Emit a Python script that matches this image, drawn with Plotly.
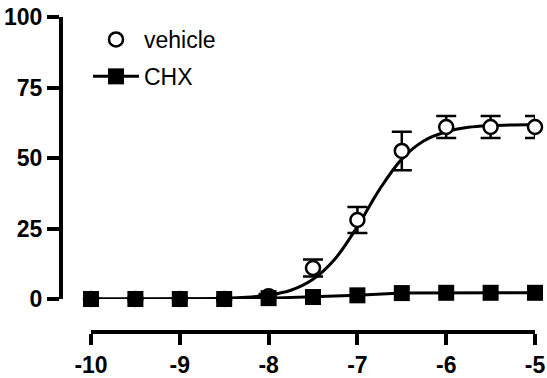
import plotly.graph_objects as go

# data
log_conc = [-10, -9.5, -9, -8.5, -8, -7.5, -7, -6.5, -6, -5.5, -5]
vehicle = [0, 0, 0, 0, 1, 11, 28, 52.5, 61, 61, 61]
vehicle_err = [0, 0, 0, 0, 0.8, 3, 4.6, 6.8, 3.9, 3.9, 3.9]
chx = [0, 0, 0, 0, 0.3, 0.7, 1.3, 2.1, 2.2, 2.2, 2.2]

# fitted curve for vehicle
fit_x = [-10, -9.5, -9, -8.5, -8.25, -8, -7.75, -7.5, -7.25, -7, -6.75, -6.5, -6.25, -6, -5.75, -5.5, -5]
fit_y = [0, 0, 0.05, 0.25, 0.6, 1.4, 3.1, 7.0, 14.3, 25.7, 38.9, 49.6, 56.1, 59.3, 60.9, 61.5, 61.9]

x_ticks = [-10, -9, -8, -7, -6, -5]
y_ticks = [0, 25, 50, 75, 100]

W, H = 547, 378
ml, mr, mt, mb = 61, 12, 17, 46
pw = W - ml - mr
ph = H - mt - mb

x_dom_start = 30 / pw
y_dom_start = 33 / ph

fig = go.Figure()

fig.add_trace(go.Scatter(
    x=fit_x, y=fit_y, mode="lines", line=dict(color="black", width=3, shape="spline"),
    showlegend=False, hoverinfo="skip", cliponaxis=False,
))

fig.add_trace(go.Scatter(
    x=log_conc, y=vehicle, mode="markers", name="vehicle", legendgroup="a",
    marker=dict(symbol="circle", size=14, color="white", line=dict(color="black", width=2.5)),
    error_y=dict(type="data", array=vehicle_err, visible=True, color="black", thickness=2.5, width=10),
    cliponaxis=False,
))

fig.add_trace(go.Scatter(
    x=log_conc, y=chx, mode="lines+markers", name="CHX", legendgroup="b",
    line=dict(color="black", width=3),
    marker=dict(symbol="square", size=16, color="black"),
    cliponaxis=False,
))

tickfont = dict(family="Liberation Sans, Arial", size=23, color="black", weight="bold")

fig.update_layout(
    template="none",
    width=W, height=H,
    margin=dict(l=ml, r=mr, t=mt, b=mb),
    paper_bgcolor="white", plot_bgcolor="white",
    showlegend=True,
    legend=dict(
        x=27 / pw, y=1 - 1 / ph, xanchor="left", yanchor="top",
        traceorder="grouped", tracegroupgap=4,
        font=dict(family="Liberation Sans, Arial", size=23, color="black"),
        bgcolor="rgba(0,0,0,0)", itemwidth=46,
    ),
    xaxis=dict(
        range=[-10, -5], domain=[x_dom_start, 1], anchor="free", position=0,
        tickvals=x_ticks, ticktext=[str(v) for v in x_ticks],
        showline=True, linecolor="black", linewidth=4,
        ticks="outside", ticklen=11, tickwidth=4, tickcolor="black",
        showgrid=False, zeroline=False, tickfont=tickfont, automargin=False,
    ),
    yaxis=dict(
        range=[0, 100], domain=[y_dom_start, 1], anchor="free", position=0,
        tickvals=y_ticks, ticktext=[str(v) for v in y_ticks],
        showline=True, linecolor="black", linewidth=4,
        ticks="outside", ticklen=12, tickwidth=4, tickcolor="black",
        showgrid=False, zeroline=False, tickfont=tickfont, automargin=False,
    ),
)

fig.write_html("out.html")
